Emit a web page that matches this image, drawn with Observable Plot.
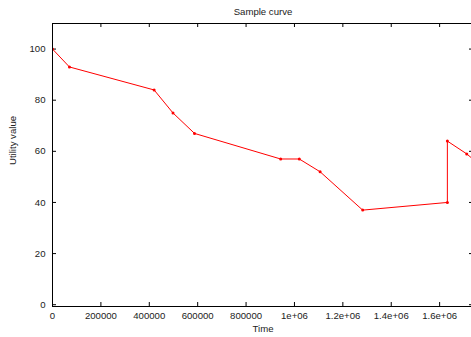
<!DOCTYPE html>
<html>
<head>
<meta charset="utf-8">
<script src="https://cdn.jsdelivr.net/npm/d3@7"></script>
<script src="https://cdn.jsdelivr.net/npm/@observablehq/plot@0.6"></script>
<style>
  html, body { margin: 0; padding: 0; overflow: hidden; background: #fff; width: 471px; }
  svg { display: block; max-width: none !important; height: 337px !important; }
</style>
</head>
<body>
<div id="chart"></div>
<script>
const title = "Sample curve";
const xLabel = "Time";
const yLabel = "Utility value";

const times  = [0, 70000, 420000, 498000, 587000, 943000, 1020000, 1106000, 1282000, 1632000, 1632000, 1712000, 1800000];
const values = [100, 93, 84, 75, 67, 57, 57, 52, 37, 40, 64, 59, 52];

const xTicks = [0, 200000, 400000, 600000, 800000, 1000000, 1200000, 1400000, 1600000];
const xTickLabels = ["0", "200000", "400000", "600000", "800000", "1e+06", "1.2e+06", "1.4e+06", "1.6e+06"];
const yTicks = [0, 20, 40, 60, 80, 100];
const yTickLabels = ["0", "20", "40", "60", "80", "100"];

const data = times.map((t, i) => ({t, v: values[i]}));

const W = 480, H = 337;
const mTop = 23, mBottom = 31, mLeft = 52, mRight = 7;
const plotH = H - mTop - mBottom;
const plotW = W - mLeft - mRight;
const tickLen = 4;

const chart = Plot.plot({
  width: W,
  height: H,
  marginTop: mTop,
  marginBottom: mBottom,
  marginLeft: mLeft,
  marginRight: mRight,
  style: {fontFamily: "'Liberation Sans', Arial, sans-serif", fontSize: "9.6px", color: "#222", background: "#fff", maxWidth: "none"},
  x: {domain: [0, 1740000]},
  y: {domain: [-0.7, 110]},
  marks: [
    Plot.tickX(xTicks, {x: d => d, insetTop: plotH - tickLen, stroke: "#000", strokeWidth: 1}),
    Plot.tickX(xTicks, {x: d => d, insetBottom: plotH - tickLen, stroke: "#000", strokeWidth: 1}),
    Plot.tickY(yTicks, {y: d => d, insetRight: plotW - tickLen, stroke: "#000", strokeWidth: 1}),
    Plot.tickY(yTicks, {y: d => d, insetLeft: plotW - tickLen, stroke: "#000", strokeWidth: 1}),
    Plot.axisX({ticks: xTicks, tickSize: 0, tickPadding: 6, tickFormat: d => xTickLabels[xTicks.indexOf(d)], label: null}),
    Plot.axisY({ticks: yTicks, tickSize: 0, tickPadding: 7, tickFormat: d => yTickLabels[yTicks.indexOf(d)], label: null}),
    Plot.line(data, {x: "t", y: "v", stroke: "#ff0000", strokeWidth: 1, clip: true}),
    Plot.dot(data, {x: "t", y: "v", r: 1.5, fill: "#ff0000", stroke: "none", clip: true}),
    Plot.frame({stroke: "#000", strokeWidth: 1}),
    Plot.text([title], {frameAnchor: "top", dy: -15, fill: "#222", fontSize: 9.6}),
    Plot.text([xLabel], {frameAnchor: "bottom", dy: 25, fill: "#222", fontSize: 9.6}),
    Plot.text([yLabel], {frameAnchor: "left", dx: -40, rotate: -90, fill: "#222", fontSize: 9.6})
  ]
});
document.getElementById("chart").appendChild(chart);
</script>
</body>
</html>
